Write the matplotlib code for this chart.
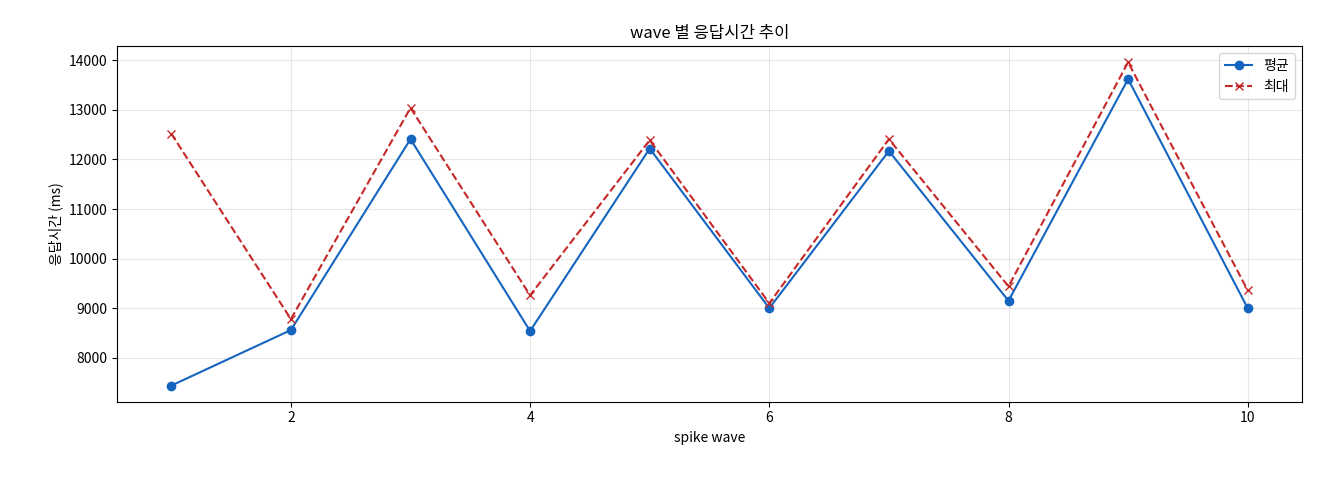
import matplotlib
matplotlib.use('Agg')
import matplotlib.pyplot as plt

plt.rcParams['font.family'] = ['Noto Sans CJK KR', 'DejaVu Sans']

waves = [1, 2, 3, 4, 5, 6, 7, 8, 9, 10]
avg_ms = [7440, 8560, 12410, 8540, 12220, 9000, 12170, 9150, 13620, 9000]
max_ms = [12520, 8780, 13040, 9260, 12390, 9100, 12410, 9440, 13960, 9360]

fig, ax = plt.subplots(figsize=(13.2, 4.8), dpi=100)
ax.plot(waves, avg_ms, '-o', color='#1565c0', label='평균')
ax.plot(waves, max_ms, '--x', color='#c62828', label='최대')
ax.set_title('wave 별 응답시간 추이')
ax.set_xlabel('spike wave')
ax.set_ylabel('응답시간 (ms)')
ax.grid(alpha=0.3)
ax.legend(loc='upper right')
fig.subplots_adjust(left=0.089, right=0.986, top=0.904, bottom=0.163)
fig.savefig('out.png')
